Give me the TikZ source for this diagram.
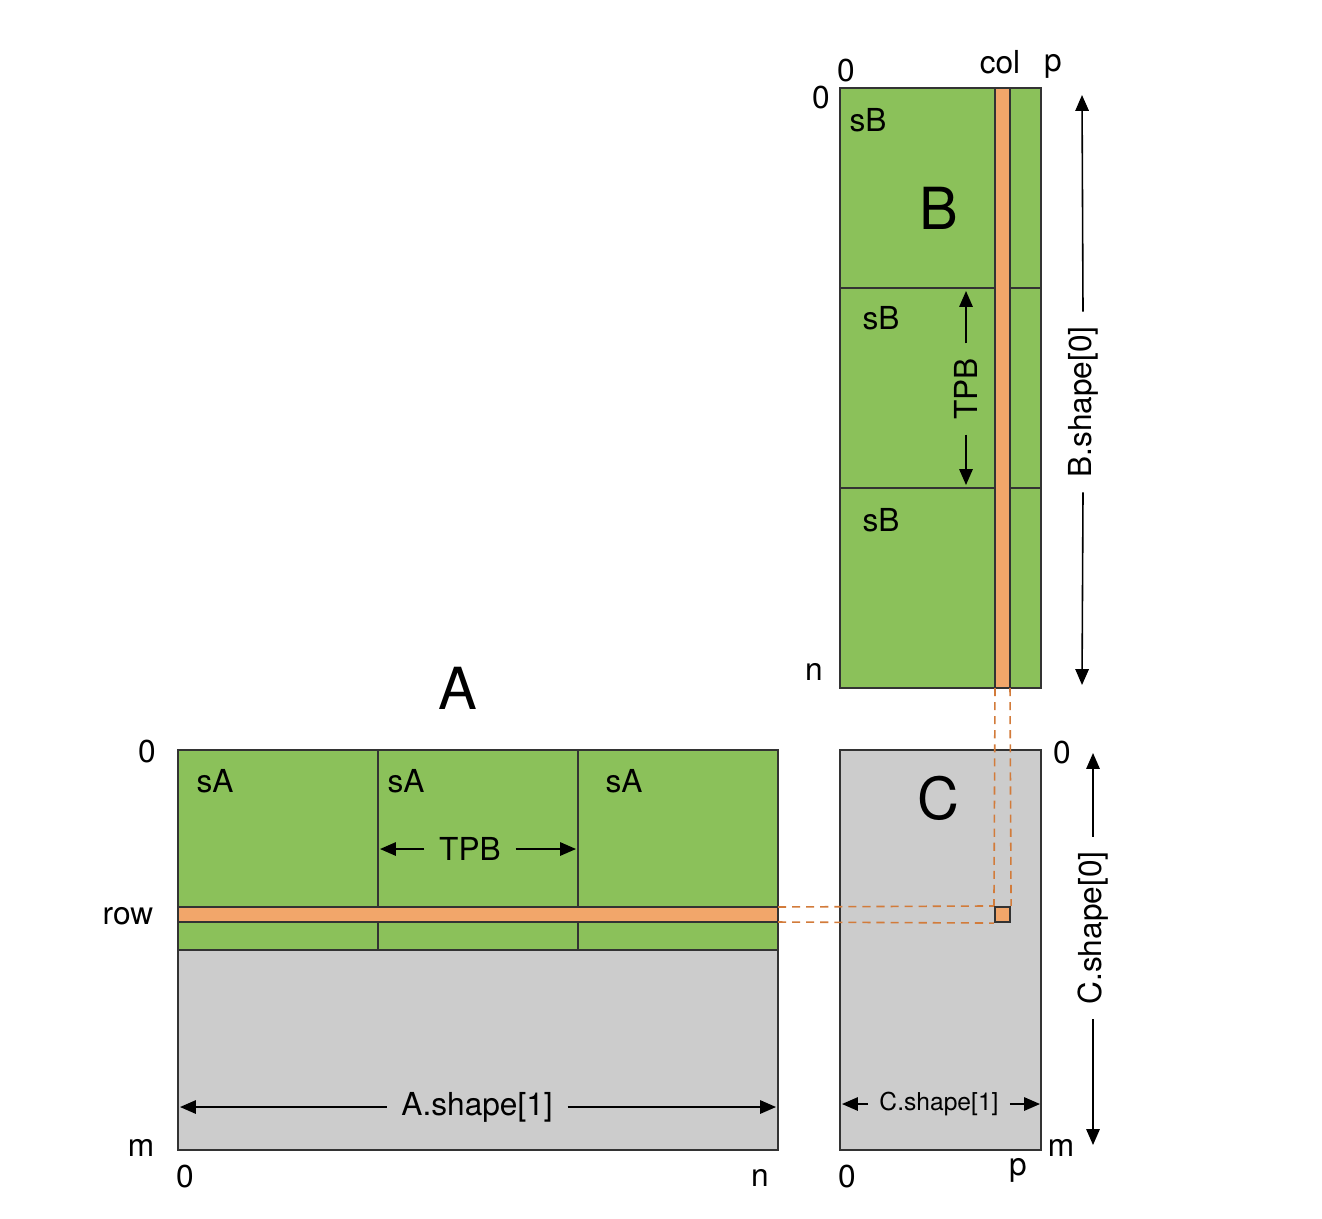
\documentclass[tikz,border=0pt]{standalone}
\usepackage{fontspec}
\setmainfont{TeX Gyre Heros}
\usepackage{xcolor}
\usetikzlibrary{arrows.meta}
\definecolor{blockgreen}{HTML}{8BC15A}
\definecolor{stripeorange}{HTML}{F2A66A}
\definecolor{blockgray}{HTML}{CCCCCC}
\definecolor{linkorange}{HTML}{D27B3A}
\tikzset{
  blk/.style={draw=black!80, line width=0.6pt},
  dim/.style={-{Triangle[length=4.5pt,width=3.8pt]}, line width=0.45pt},
  lbl/.style={font=\fontsize{9}{10}\selectfont, inner sep=0pt},
  dimlbl/.style={font=\fontsize{9}{10}\selectfont, inner sep=4pt},
  smalldimlbl/.style={font=\fontsize{7}{8}\selectfont, inner sep=3pt},
  big/.style={font=\fontsize{16.5}{18}\selectfont, inner sep=0pt},
  link/.style={linkorange, dash pattern=on 2.3pt off 1.7pt, line width=0.45pt},
  cellbox/.style={draw=black!80, line width=0.6pt, fill=stripeorange,
    minimum size=1.5mm, inner sep=0pt},
}

\begin{document}
\begin{tikzpicture}[x=0.01cm, y=-0.01cm]
  \useasboundingbox (0,0) rectangle (1322,1218);
  % Matrix B
  \fill[blockgreen] (840,88) rectangle (1041,688);
  \draw[blk] (840,288) -- (1041,288) (840,488) -- (1041,488);
  \filldraw[blk, fill=stripeorange] (995,88) rectangle (1010,688);
  \draw[blk] (840,88) rectangle (1041,688);
  \node[big] (bname) at (939,208) {B};
  \node[lbl] (sb1) at (868,120) {sB};
  \node[lbl] (sb2) at (881,318) {sB};
  \node[lbl] (sb3) at (881,520) {sB};
  \node[lbl] (bzerotop) at (846,71) {0};
  \node[lbl] (bcol) at (1000,62) {col};
  \node[lbl] (bp) at (1053,66) {p};
  \node[lbl] (bzeroleft) at (821,98) {0};
  \node[lbl] (bn) at (814,672) {n};
  % TPB along B
  \node[dimlbl, rotate=90] (tpbb) at (966,389) {TPB};
  \coordinate (tpbbtop) at (966,291);
  \coordinate (tpbbbot) at (966,485);
  \draw[dim] (tpbb.east) -- (tpbbtop);
  \draw[dim] (tpbb.west) -- (tpbbbot);
  % B.shape[0]
  \node[dimlbl, rotate=90] (bshape) at (1083,402) {B.shape[0]};
  \coordinate (bshapetop) at (1082,95);
  \coordinate (bshapebot) at (1082,685);
  \draw[dim] (bshape.east) -- (bshapetop);
  \draw[dim] (bshape.west) -- (bshapebot);

  % Matrix A
  \fill[blockgray] (178,750) rectangle (778,1150);
  \fill[blockgreen] (178,750) rectangle (778,950);
  \draw[blk] (378,750) -- (378,950) (578,750) -- (578,950);
  \filldraw[blk, fill=stripeorange] (178,907) rectangle (778,922);
  \draw[blk] (178,950) -- (778,950);
  \draw[blk] (178,750) rectangle (778,1150);
  \node[big] (aname) at (458,688) {A};
  \node[lbl] (sa1) at (215,781) {sA};
  \node[lbl] (sa2) at (406,781) {sA};
  \node[lbl] (sa3) at (624,781) {sA};
  \node[lbl] (azeroleft) at (147,752) {0};
  \node[lbl] (arow) at (128,916) {row};
  \node[lbl] (am) at (141,1148) {m};
  \node[lbl] (azerobot) at (185,1176) {0};
  \node[lbl] (an) at (760,1178) {n};
  % TPB along A
  \node[dimlbl] (tpba) at (470,849) {TPB};
  \coordinate (tpbaleft) at (380,849);
  \coordinate (tpbaright) at (576,849);
  \draw[dim] (tpba.west) -- (tpbaleft);
  \draw[dim] (tpba.east) -- (tpbaright);
  % A.shape[1]
  \node[dimlbl] (ashape) at (477,1107) {A.shape[1]};
  \coordinate (ashapeleft) at (180,1107);
  \coordinate (ashaperight) at (776,1107);
  \draw[dim] (ashape.west) -- (ashapeleft);
  \draw[dim] (ashape.east) -- (ashaperight);

  % Matrix C
  \filldraw[blk, fill=blockgray] (840,750) rectangle (1041,1150);
  \node[big] (cname) at (938,798) {C};
  \node[lbl] (czerotop) at (1062,753) {0};
  \node[lbl] (cm) at (1061,1148) {m};
  \node[lbl] (czerobot) at (847,1176) {0};
  \node[lbl] (cp) at (1018,1170) {p};
  % C.shape[0]
  \node[dimlbl, rotate=90] (cshapev) at (1093,928) {C.shape[0]};
  \coordinate (cshapetop) at (1093,753);
  \coordinate (cshapebot) at (1093,1145);
  \draw[dim] (cshapev.east) -- (cshapetop);
  \draw[dim] (cshapev.west) -- (cshapebot);
  % C.shape[1]
  \node[smalldimlbl] (cshapeh) at (939,1104) {C.shape[1]};
  \coordinate (cshapeleft) at (842,1104);
  \coordinate (cshaperight) at (1040,1104);
  \draw[dim] (cshapeh.west) -- (cshapeleft);
  \draw[dim] (cshapeh.east) -- (cshaperight);

  % row x col -> one cell of C
  \node[cellbox] (cell) at (1002.5,914.5) {};
  \coordinate (rowtop) at (778,907);
  \coordinate (rowbot) at (778,922);
  \coordinate (colleft) at (995,688);
  \coordinate (colright) at (1010,688);
  \draw[link] (rowtop) -- (cell.north west);
  \draw[link] (rowbot) -- (cell.south west);
  \draw[link] (colleft) -- (cell.north west);
  \draw[link] (colright) -- (cell.north east);
\end{tikzpicture}
\end{document}
